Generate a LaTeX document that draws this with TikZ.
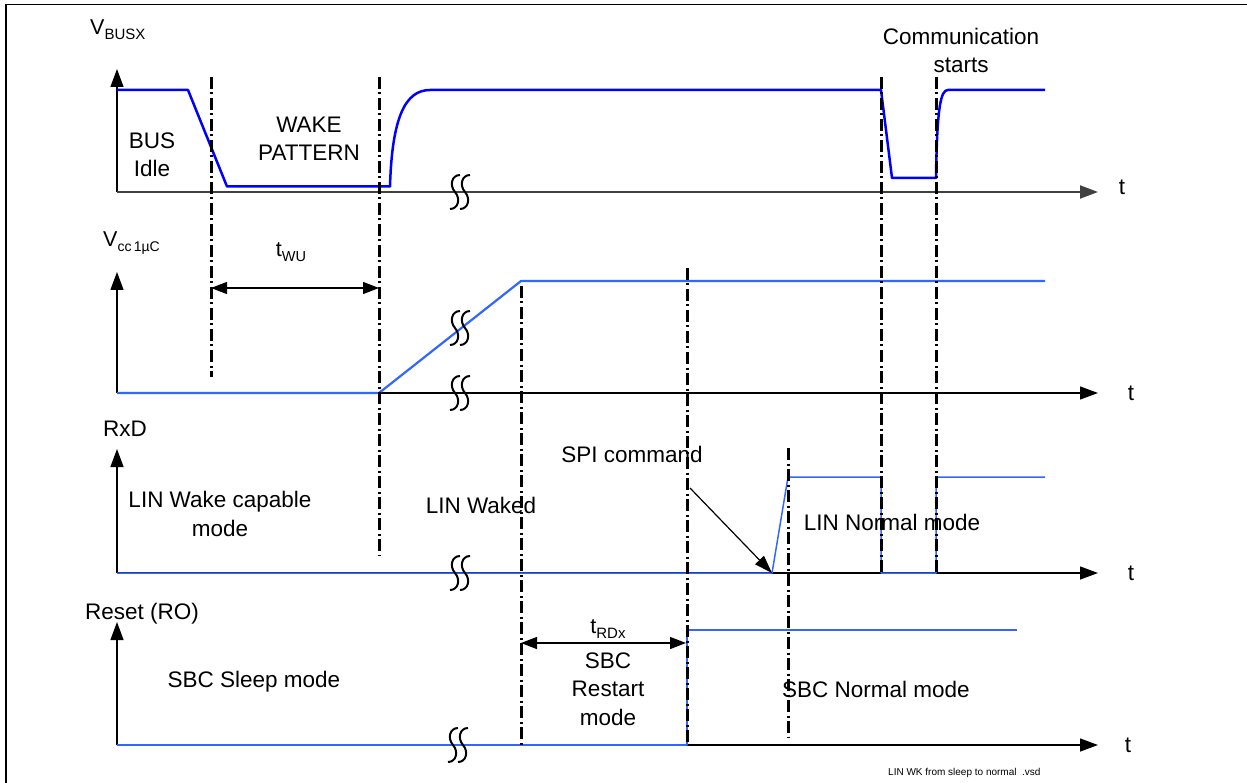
\documentclass[tikz,border=0pt]{standalone}
\usepackage{fontspec}
\setmainfont{Liberation Sans}
\usetikzlibrary{arrows.meta}
\definecolor{sigblue}{RGB}{0,0,255}
\definecolor{lblue}{RGB}{51,102,255}
\definecolor{axgray}{RGB}{64,64,64}
\newcommand{\lowsub}[2][14]{\raisebox{-5pt}{\fontsize{#1}{#1}\selectfont #2}}
\tikzset{
  lbl/.style={inner sep=0pt, anchor=base, font=\fontsize{22.5}{28.5}\selectfont, align=center},
  axline/.style={line width=1.3pt, black, -{Triangle[length=18pt,width=13pt]}},
  tickdd/.style={line width=3pt, black, dash pattern=on 12pt off 3.5pt on 2pt off 3.5pt},
  sigA/.style={line width=2.5pt, sigblue, line join=round},
  sigB/.style={line width=2.2pt, lblue, line join=round},
  sigC/.style={line width=1.5pt, lblue, line join=round},
  dimarrow/.style={line width=1.3pt, black, {Triangle[length=16pt,width=12pt]}-{Triangle[length=16pt,width=12pt]}},
  brkline/.style={line width=2pt, black},
  brkmark/.pic={
    \draw[brkline] (0,-17) .. controls (-8,-17) and (-11,-7) .. (-5,0) .. controls (1,7) and (-2,17) .. (-10,17);
    \draw[brkline] (10,-17) .. controls (2,-17) and (-1,-7) .. (5,0) .. controls (11,7) and (8,17) .. (0,17);
  }
}
\begin{document}
\begin{tikzpicture}[x=1pt,y=-1pt]
\useasboundingbox (0,0) rectangle (1247,783);
% frame
\draw[line width=1.3pt] (6,783) -- (6,4.3) -- (1247,4.3);

% ---------- axes ----------
\coordinate (o1) at (117,192);
\coordinate (o2) at (117,393);
\coordinate (o3) at (117,573);
\coordinate (o4) at (117,745);
\draw[axline] (o1) -- (117,69);
\draw[axline, line width=2pt, axgray] (o1) -- (1098,192);
\draw[axline] (o2) -- (117,272);
\draw[axline] (o2) -- (1098,393);
\draw[axline] (o3) -- (117,449);
\draw[axline] (o3) -- (1098,573);
\draw[axline] (o4) -- (117,622);
\draw[axline] (o4) -- (1098,745);

% ---------- signals ----------
\draw[sigA] (117,90) -- (188,90) -- (227,186.5) -- (390,186.5)
  .. controls (392,118) and (405,90) .. (430,90) -- (881,90) -- (892,178) -- (936,178)
  .. controls (937,105) and (941,90) .. (948,90) -- (1045,90);
\draw[sigB] (117,393) -- (379,393) -- (521,281) -- (1045,281);
\draw[sigC] (117,573) -- (772,573) -- (788,477) -- (881,477) -- (881,573) -- (936,573) -- (936,477) -- (1045,477);
\draw[sigB] (117,745) -- (687,745) -- (687,630) -- (1017,630);

% ---------- breaks ----------
\pic at (460,192) {brkmark};
\pic at (460,328) {brkmark};
\pic at (460,393) {brkmark};
\pic at (460,573) {brkmark};
\pic at (458,745) {brkmark};

% ---------- dash-dot markers ----------
\draw[tickdd] (211,77) -- (211,377);
\draw[tickdd] (379,77) -- (379,555);
\draw[tickdd] (881,77) -- (881,573);
\draw[tickdd] (936,77) -- (936,573);
\draw[tickdd] (521,286) -- (521,745);
\draw[tickdd] (687,268) -- (687,745);
\draw[tickdd] (788,448) -- (788,738);

% ---------- dimension arrows ----------
\coordinate (wuL) at (211,288);
\coordinate (wuR) at (379,288);
\draw[dimarrow] (wuL) -- (wuR);
\coordinate (rdL) at (521,643);
\coordinate (rdR) at (686,643);
\draw[dimarrow] (rdL) -- (rdR);
\coordinate (spiS) at (690,488);
\coordinate (spiE) at (772,573);
\draw[line width=1.2pt, -{Triangle[length=18pt,width=12pt]}] (spiS) -- (spiE);

% ---------- labels ----------
\node[lbl, anchor=base west] (vbus) at (90,35) {\fontsize{21.5}{24}\selectfont V\lowsub[15]{BUSX}};
\node[lbl] (busidle) at (152,177) {BUS\\Idle};
\node[lbl] (wake) at (309,161) {WAKE\\PATTERN};
\node[lbl] (comm) at (961,73) {Communication\\starts};
\node[lbl, anchor=center] (t1) at (1122,187) {t};

\node[lbl, anchor=base west] (vcc) at (103,247) {\fontsize{21.5}{24}\selectfont V\lowsub[14]{cc\,1µC}};
\node[lbl] (twu) at (291,257) {\fontsize{21.5}{24}\selectfont t\lowsub[14.5]{WU}};
\node[lbl, anchor=center] (t2) at (1131,393) {t};

\node[lbl, anchor=base west] (rxd) at (103,436) {RxD};
\node[lbl] (lwc) at (220,536) {LIN Wake capable\\mode};
\node[lbl] (lwk) at (481,513) {LIN Waked};
\node[lbl] (spi) at (632,462) {SPI command};
\node[lbl] (lnm) at (892,530) {LIN Normal mode};
\node[lbl, anchor=center] (t3) at (1131,573) {t};

\node[lbl, anchor=base west] (rst) at (85,619) {Reset (RO)};
\node[lbl] (trdx) at (608,633) {\fontsize{21.5}{24}\selectfont t\lowsub[15]{RDx}};
\node[lbl] (sbcr) at (608,725) {SBC\\Restart\\mode};
\node[lbl] (sbcs) at (254,687) {SBC Sleep mode};
\node[lbl] (sbcn) at (876,697) {SBC Normal mode};
\node[lbl, anchor=center] (t4) at (1128,745) {t};

\node[inner sep=0pt, anchor=base west, font=\fontsize{10}{12}\selectfont] (fname) at (888,775) {LIN WK from sleep to normal\ \ .vsd};
\end{tikzpicture}
\end{document}
